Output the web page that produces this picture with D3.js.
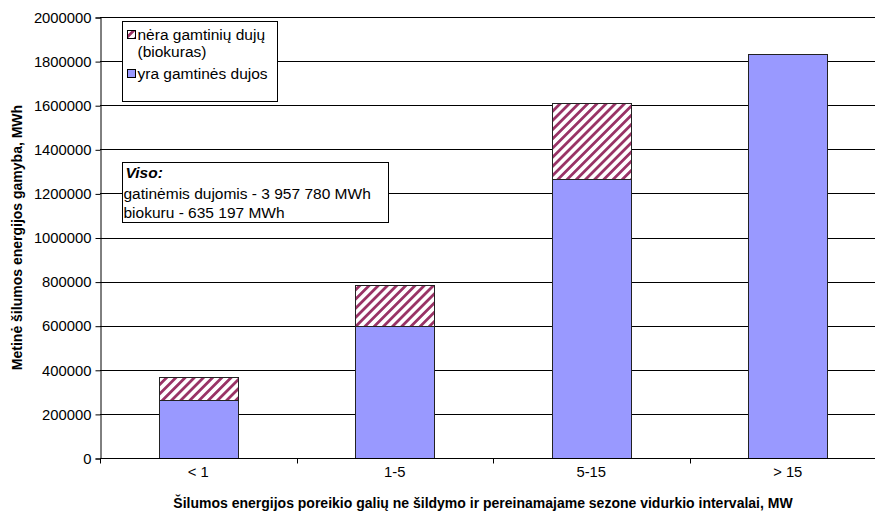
<!DOCTYPE html>
<html>
<head>
<meta charset="utf-8">
<script src="https://cdn.jsdelivr.net/npm/d3@7"></script>
<style>
  body { margin: 0; background: #fff; }
  svg { display: block; font-family: "Liberation Sans", Arial, sans-serif; }
</style>
</head>
<body>
<svg id="chart" width="875" height="512"></svg>
<script>
// Heat demand intervals (MW)
const categories = ["< 1", "1-5", "5-15", "> 15"];
// Annual heat production, MWh
const gasValues = [263000, 598000, 1266000, 1830780];   // yra gamtinės dujos
const bioValues = [105000, 185197, 345000, 0];          // nėra gamtinių dujų (biokuras)
const yTicks = [0, 200000, 400000, 600000, 800000, 1000000, 1200000, 1400000, 1600000, 1800000, 2000000];

const gasColor = "#9999ff";
const bioColor = "#993366";

const svg = d3.select("#chart");
const margin = { left: 100, right: -11, top: 17, bottom: 54 };
const W = 875, H = 512;

const x = d3.scaleBand()
  .domain(categories)
  .range([margin.left, W - margin.right])
  .paddingInner(0)
  .paddingOuter(0);

const y = d3.scaleLinear()
  .domain([0, 2000000])
  .range([H - margin.bottom, margin.top]);

// Hatch pattern for the biofuel series
const defs = svg.append("defs");
const pat = defs.append("pattern")
  .attr("id", "hatch")
  .attr("patternUnits", "userSpaceOnUse")
  .attr("width", 6.5).attr("height", 6.5)
  .attr("patternTransform", "rotate(45)");
pat.append("rect").attr("width", 6.5).attr("height", 6.5).attr("fill", "#fff");
pat.append("rect").attr("x", 0).attr("y", 0).attr("width", 2.8).attr("height", 6.5).attr("fill", bioColor);

// Gridlines
svg.append("g")
  .selectAll("line")
  .data(yTicks.filter(d => d > 0))
  .join("line")
  .attr("x1", margin.left).attr("x2", W)
  .attr("y1", d => Math.round(y(d)) + 0.5).attr("y2", d => Math.round(y(d)) + 0.5)
  .attr("stroke", "#000").attr("stroke-width", 1);

// Stacked data
const rows = categories.map((c, i) => ({ cat: c, gas: gasValues[i], bio: bioValues[i] }));
const stack = d3.stack().keys(["gas", "bio"])(rows);

const barW = x.bandwidth() * 0.4;
const barOff = (x.bandwidth() - barW) / 2;

stack.forEach(layer => {
  svg.append("g")
    .selectAll("rect")
    .data(layer.filter(d => d[1] - d[0] > 0))
    .join("rect")
    .attr("x", d => Math.round(x(d.data.cat) + barOff) + 0.5)
    .attr("width", Math.round(barW))
    .attr("y", d => Math.round(y(d[1])) + 0.5)
    .attr("height", d => Math.round(y(d[0])) - Math.round(y(d[1])))
    .attr("fill", layer.key === "gas" ? gasColor : "url(#hatch)")
    .attr("stroke", "#222")
    .attr("stroke-width", 1);
});

// Y axis
const yAxis = d3.axisLeft(y).tickValues(yTicks).tickSize(5).tickPadding(4).tickFormat(d3.format("d"));
const gy = svg.append("g")
  .attr("transform", `translate(${margin.left + 0.5},0.5)`)
  .call(yAxis);
gy.select(".domain").attr("stroke", "#000");
gy.selectAll(".tick line").attr("stroke", "#000");
gy.selectAll(".tick text").attr("font-size", 14.8).attr("fill", "#000")
  .attr("font-family", "Liberation Sans, Arial, sans-serif");

// X axis with category separators
const gx = svg.append("g")
  .attr("transform", `translate(0,${Math.round(y(0)) + 0.5})`);
gx.append("line").attr("x1", margin.left).attr("x2", W).attr("stroke", "#000");
gx.selectAll("line.sep")
  .data(categories)
  .join("line")
  .attr("class", "sep")
  .attr("x1", d => Math.round(x(d)) + 0.5).attr("x2", d => Math.round(x(d)) + 0.5)
  .attr("y1", 0).attr("y2", 5)
  .attr("stroke", "#000");
gx.selectAll("text")
  .data(categories)
  .join("text")
  .attr("x", d => x(d) + x.bandwidth() / 2)
  .attr("y", 18)
  .attr("text-anchor", "middle")
  .attr("font-size", 14.8)
  .text(d => d);

// Axis titles
svg.append("text")
  .attr("transform", `translate(22,${(margin.top + H - margin.bottom) / 2}) rotate(-90)`)
  .attr("text-anchor", "middle")
  .attr("font-size", 14).attr("font-weight", "bold")
  .text("Metinė šilumos energijos gamyba, MWh");

svg.append("text")
  .attr("x", 483).attr("y", 508)
  .attr("text-anchor", "middle")
  .attr("font-size", 14).attr("font-weight", "bold")
  .text("Šilumos energijos poreikio galių ne šildymo ir pereinamajame sezone vidurkio intervalai, MW");

// Legend
const lg = svg.append("g").attr("transform", "translate(122.5,21.5)");
lg.append("rect").attr("width", 155).attr("height", 80).attr("fill", "#fff").attr("stroke", "#000");
const legendItems = [
  { fill: "url(#hatch)", lines: ["nėra gamtinių dujų", "(biokuras)"], y: 13 },
  { fill: gasColor, lines: ["yra gamtinės dujos"], y: 52 }
];
legendItems.forEach(it => {
  lg.append("rect").attr("x", 5).attr("y", it.y - 4).attr("width", 8).attr("height", 8)
    .attr("fill", it.fill).attr("stroke", "#000");
  it.lines.forEach((t, k) => {
    lg.append("text").attr("x", 15).attr("y", it.y + 5 + k * 17)
      .attr("font-size", 15.5).text(t);
  });
});

// Totals text box
const tb = svg.append("g").attr("transform", "translate(122.5,162.5)");
tb.append("rect").attr("width", 266).attr("height", 60).attr("fill", "#fff").attr("stroke", "#000");
tb.append("text").attr("x", 3).attr("y", 15).attr("font-size", 15.5)
  .attr("font-weight", "bold").attr("font-style", "italic").text("Viso:");
tb.append("text").attr("x", 1).attr("y", 36).attr("font-size", 15.5)
  .text("gatinėmis dujomis - " + d3.sum(gasValues).toLocaleString("fr-FR").replace(/\s/g, " ") + " MWh");
tb.append("text").attr("x", 1).attr("y", 55).attr("font-size", 15.5)
  .text("biokuru - " + d3.sum(bioValues).toLocaleString("fr-FR").replace(/\s/g, " ") + " MWh");
</script>
</body>
</html>
